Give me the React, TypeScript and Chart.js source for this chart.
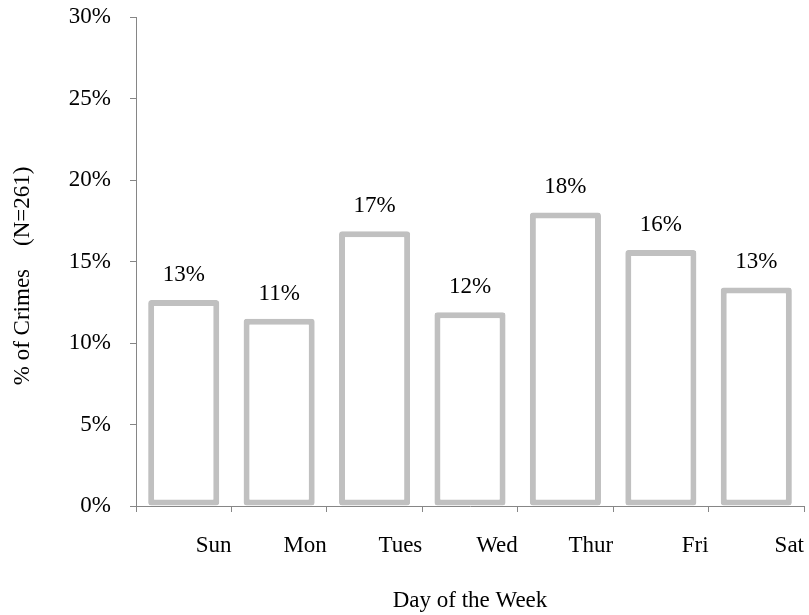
import React, { useEffect, useRef } from "react";
import { Chart, registerables } from "chart.js";

Chart.register(...registerables);

const days = ["Sun", "Mon", "Tues", "Wed", "Thur", "Fri", "Sat"];
const crimePct = [12.64, 11.49, 16.86, 11.88, 18.01, 15.71, 13.41];
const pctLabels = ["13%", "11%", "17%", "12%", "18%", "16%", "13%"];
const yTicks = [0, 5, 10, 15, 20, 25, 30];

const FONT = "'Liberation Serif', 'Times New Roman', serif";
const AXIS = "#868686";
const BAR = "#c0c0c0";

const labelPlugin = {
  id: "barValueLabels",
  afterDatasetsDraw(chart: any) {
    const ctx = chart.ctx;
    const meta = chart.getDatasetMeta(0);
    ctx.save();
    ctx.font = `23px ${FONT}`;
    ctx.fillStyle = "#000";
    ctx.textAlign = "center";
    ctx.textBaseline = "middle";
    meta.data.forEach((el: any, i: number) => {
      ctx.fillText(pctLabels[i], el.x, el.y - 25);
    });
    ctx.restore();
  },
};

export default function App() {
  const ref = useRef<HTMLCanvasElement | null>(null);
  useEffect(() => {
    if (!ref.current) return;
    const chart = new Chart(ref.current, {
      type: "bar",
      data: {
        labels: days,
        datasets: [
          {
            data: crimePct,
            xAxisID: "x",
            yAxisID: "y",
            backgroundColor: "#ffffff",
            borderColor: BAR,
            borderWidth: 6,
            borderSkipped: false,
            borderRadius: 3,
            barPercentage: 0.745,
            categoryPercentage: 1,
          },
        ],
      },
      options: {
        responsive: false,
        animation: false,
        devicePixelRatio: 1,
        layout: { padding: { top: 17, right: 5, bottom: 0, left: 0 } },
        plugins: {
          legend: { display: false },
          tooltip: { enabled: false },
        },
        scales: {
          x: {
            type: "category",
            display: false,
          },
          xl: {
            type: "linear",
            position: "bottom",
            min: 0,
            max: 7,
            offset: false,
            afterBuildTicks: (scale: any) => {
              scale.ticks = [0, 1, 2, 3, 4, 5, 6, 7].map((v) => ({ value: v }));
            },
            afterFit: (scale: any) => {
              scale.height = 109;
              scale.paddingLeft = 0;
              scale.paddingRight = 0;
            },
            ticks: {
              align: "end",
              padding: 20,
              color: "#000",
              font: { family: FONT, size: 23 },
              maxRotation: 0,
              autoSkip: false,
              callback: (v: any) => (v >= 1 ? days[v - 1] : ""),
            },
            grid: {
              offset: false,
              drawOnChartArea: false,
              drawTicks: true,
              tickLength: 6,
              color: AXIS,
            },
            border: { display: true, color: AXIS, width: 1 },
            title: {
              display: true,
              text: "Day of the Week",
              color: "#000",
              font: { family: FONT, size: 23 },
              padding: { top: 0, bottom: 0 },
            },
          },
          y: {
            type: "linear",
            min: 0,
            max: 30,
            afterBuildTicks: (scale: any) => {
              scale.ticks = yTicks.map((v) => ({ value: v }));
            },
            afterFit: (scale: any) => {
              scale.width = 136;
              scale.paddingTop = 0;
              scale.paddingBottom = 0;
            },
            ticks: {
              padding: 19,
              color: "#000",
              font: { family: FONT, size: 23 },
              callback: (v: any) => v + "%",
            },
            grid: {
              drawOnChartArea: false,
              drawTicks: true,
              tickLength: 6,
              color: AXIS,
            },
            border: { display: true, color: AXIS, width: 1 },
            title: {
              display: true,
              text: "% of Crimes    (N=261)     ",
              color: "#000",
              font: { family: FONT, size: 23 },
              padding: { top: 9, bottom: 0 },
            },
          },
        },
      },
      plugins: [labelPlugin],
    });
    return () => chart.destroy();
  }, []);
  return (
    <div style={{ position: "absolute", left: 0, top: 0, width: 809, height: 615, background: "#fff" }}>
      <canvas ref={ref} width={809} height={615} style={{ display: "block" }} />
    </div>
  );
}
